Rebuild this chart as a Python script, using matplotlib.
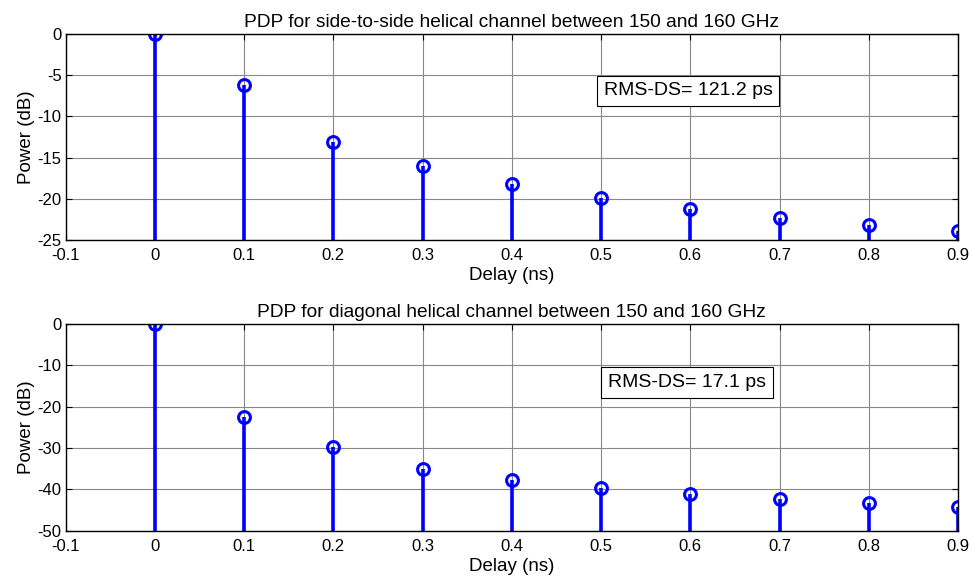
import matplotlib.pyplot as plt
import numpy as np

delay = [0, 0.1, 0.2, 0.3, 0.4, 0.5, 0.6, 0.7, 0.8, 0.9]
pdp_side = [0, -6.15, -13.15, -16.0, -18.15, -19.9, -21.25, -22.3, -23.2, -23.9]
pdp_diag = [0, -22.4, -29.8, -35.1, -37.7, -39.6, -41.1, -42.3, -43.3, -44.2]

plt.rcParams['font.family'] = ['Liberation Sans', 'DejaVu Sans']
plt.rcParams['font.size'] = 12
plt.rcParams['axes.unicode_minus'] = False

fig = plt.figure(figsize=(9.72, 5.81), dpi=100)
ax1 = fig.add_axes([0.0676, 0.587, 0.918, 0.3545])
ax2 = fig.add_axes([0.0676, 0.0866, 0.918, 0.3557])

panels = [
    (ax1, pdp_side, -25, 5, 'PDP for side-to-side helical channel between 150 and 160 GHz',
     'RMS-DS= 121.2 ps', (0.503, -6.9)),
    (ax2, pdp_diag, -50, 10, 'PDP for diagonal helical channel between 150 and 160 GHz',
     'RMS-DS= 17.1 ps', (0.508, -14.2)),
]

for ax, vals, ymin, step, title, label, pos in panels:
    ml, sl, bl = ax.stem(delay, vals, bottom=ymin, basefmt=' ')
    plt.setp(sl, color='#0000ff', linewidth=2.6)
    plt.setp(ml, color='#0000ff', markerfacecolor='none', markersize=8.5,
             markeredgewidth=2.2)
    ax.set_xlim(-0.1, 0.9)
    ax.set_ylim(ymin, 0)
    ax.set_xticks(np.arange(-0.1, 0.91, 0.1))
    ax.set_xticklabels(['-0.1', '0', '0.1', '0.2', '0.3', '0.4', '0.5', '0.6', '0.7', '0.8', '0.9'])
    ax.set_yticks(np.arange(ymin, 0.1, step))
    ax.grid(True, color='#888888', linewidth=0.8)
    ax.set_axisbelow(True)
    ax.tick_params(direction='in', top=True, right=True, length=4)
    ax.tick_params(axis='x', pad=6)
    ax.tick_params(axis='y', pad=3)
    for s in ax.spines.values():
        s.set_linewidth(1.0)
    ax.set_title(title, fontsize=13.8, pad=5)
    ax.set_xlabel('Delay (ns)', fontsize=13.5, labelpad=3)
    ax.set_ylabel('Power (dB)', fontsize=13.5, labelpad=2)
    ax.text(pos[0], pos[1], label, fontsize=14, va='center', ha='left',
            bbox=dict(boxstyle='square,pad=0.35', facecolor='white', edgecolor='black', linewidth=0.8))

fig.savefig('out.png', dpi=100)
